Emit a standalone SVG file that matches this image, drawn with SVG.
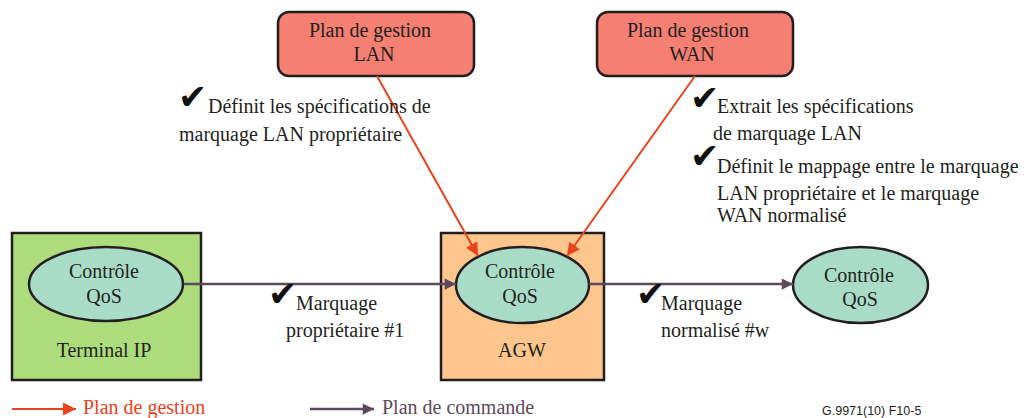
<svg xmlns="http://www.w3.org/2000/svg" width="1029" height="418" viewBox="0 0 1029 418">
  <style>
    text { font-family: "Liberation Serif", "Times New Roman", serif; font-size: 20px; fill: #231f20; }
    .c { text-anchor: middle; }
    .chk { font-family: "DejaVu Sans", sans-serif; font-size: 35px; fill: #111; }
    .plane { fill: #f47f72; stroke: #231f20; stroke-width: 2.5; }
    .qos { fill: #a8dcc8; stroke: #231f20; stroke-width: 2.5; }
    .box { stroke: #231f20; stroke-width: 2.5; }
    .mgmt { stroke: #e8431a; stroke-width: 2; fill: none; }
    .ctrl { stroke: #5c4a5c; stroke-width: 2.5; fill: none; }
  </style>
  <defs>
    <marker id="ahMgmt" viewBox="0 0 10 10" refX="10" refY="5" markerWidth="7.5" markerHeight="6.5" markerUnits="strokeWidth" orient="auto">
      <path d="M0,0 L10,5 L0,10 Z" fill="#e8431a"/>
    </marker>
    <marker id="ahCtrl" viewBox="0 0 10 10" refX="10" refY="5" markerWidth="5" markerHeight="4.5" markerUnits="strokeWidth" orient="auto">
      <path d="M0,0 L10,5 L0,10 Z" fill="#5c4a5c"/>
    </marker>
  </defs>

  <!-- Management planes -->
  <g id="lan-plane">
    <rect class="plane" x="278" y="12" width="196" height="64" rx="11"/>
    <text class="c" x="370" y="37">Plan de gestion</text>
    <text class="c" x="374" y="61">LAN</text>
  </g>
  <g id="wan-plane">
    <rect class="plane" x="597" y="12" width="196" height="64" rx="11"/>
    <text class="c" x="688" y="37">Plan de gestion</text>
    <text class="c" x="692" y="61">WAN</text>
  </g>

  <!-- Terminal IP -->
  <g id="terminal-ip">
    <rect class="box" x="12" y="233" width="189" height="147" fill="#acdc7c"/>
    <ellipse class="qos" cx="106" cy="284" rx="77" ry="37"/>
    <text class="c" x="104" y="278">Contrôle</text>
    <text class="c" x="104" y="303">QoS</text>
    <text class="c" x="104" y="357">Terminal IP</text>
  </g>

  <!-- AGW -->
  <g id="agw">
    <rect class="box" x="441" y="233" width="163" height="147" fill="#fcc68c"/>
    <ellipse class="qos" cx="522.5" cy="285" rx="66.5" ry="38"/>
    <text class="c" x="520" y="278">Contrôle</text>
    <text class="c" x="520" y="303">QoS</text>
    <text class="c" x="522" y="357">AGW</text>
  </g>

  <!-- Remote QoS control -->
  <g id="remote-qos">
    <ellipse class="qos" cx="860.5" cy="285" rx="67.5" ry="38"/>
    <text class="c" x="859" y="282">Contrôle</text>
    <text class="c" x="860" y="306">QoS</text>
  </g>

  <!-- Connectors -->
  <g id="connectors">
    <line class="mgmt" x1="377" y1="76" x2="478" y2="256" marker-end="url(#ahMgmt)"/>
    <line class="mgmt" x1="695" y1="76" x2="567" y2="256" marker-end="url(#ahMgmt)"/>
    <line class="ctrl" x1="184" y1="284" x2="456" y2="284" marker-end="url(#ahCtrl)"/>
    <line class="ctrl" x1="589" y1="284" x2="793" y2="284" marker-end="url(#ahCtrl)"/>
  </g>

  <!-- Annotations -->
  <g id="lan-notes">
    <text class="chk" x="178" y="109">✔</text>
    <text x="208" y="113">Définit les spécifications de</text>
    <text x="179" y="141">marquage LAN propriétaire</text>
  </g>
  <g id="wan-notes">
    <text class="chk" x="690" y="110">✔</text>
    <text x="717" y="113">Extrait les spécifications</text>
    <text x="713" y="140">de marquage LAN</text>
    <text class="chk" x="690" y="168">✔</text>
    <text x="717" y="173">Définit le mappage entre le marquage</text>
    <text x="717" y="200">LAN propriétaire et le marquage</text>
    <text x="717" y="222">WAN normalisé</text>
  </g>
  <g id="lan-marking">
    <text class="chk" x="268" y="306">✔</text>
    <text x="296" y="310">Marquage</text>
    <text x="286" y="337">propriétaire #1</text>
  </g>
  <g id="wan-marking">
    <text class="chk" x="636" y="306">✔</text>
    <text x="661" y="310">Marquage</text>
    <text x="661" y="337">normalisé #w</text>
  </g>

  <!-- Legend -->
  <g id="legend">
    <line class="mgmt" x1="12" y1="409" x2="76" y2="409" marker-end="url(#ahMgmt)"/>
    <text x="83" y="414" style="fill:#e8431a">Plan de gestion</text>
    <line class="ctrl" x1="310" y1="409" x2="374" y2="409" marker-end="url(#ahCtrl)"/>
    <text x="382" y="414" style="fill:#5c4a5c">Plan de commande</text>
    <text x="822" y="415" style="font-family:'Liberation Sans', Arial, sans-serif; font-size:12.5px">G.9971(10) F10-5</text>
  </g>
</svg>
